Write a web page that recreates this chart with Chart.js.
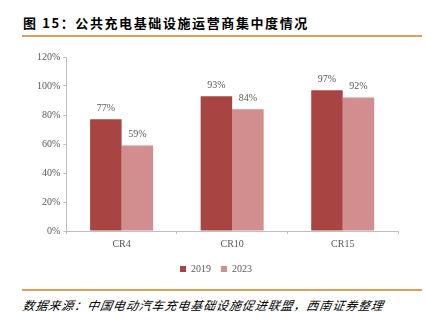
<!DOCTYPE html>
<html><head><meta charset="utf-8">
<script src="https://cdn.jsdelivr.net/npm/chart.js@4/dist/chart.umd.min.js"></script>
<style>
html,body{margin:0;padding:0;background:#fff;width:426px;height:329px;overflow:hidden;position:relative}
#title{position:absolute;left:23px;top:13px;font-family:"Noto Sans CJK SC";font-weight:bold;font-size:13px;color:#000;letter-spacing:1.6px;white-space:nowrap}
.rule{position:absolute;left:22px;width:400px;height:2px;background:#D9A25A}
#src{position:absolute;left:23px;top:296px;font-family:"Noto Sans CJK SC";font-style:italic;font-size:12px;color:#000;letter-spacing:0.9px;white-space:nowrap;transform:skewX(-10deg)}
#wrap{position:absolute;left:0;top:40px;width:426px;height:244px}
</style></head>
<body>
<div id="title">图 15：公共充电基础设施运营商集中度情况</div>
<div class="rule" style="top:35px"></div>
<div id="wrap"><canvas id="c" width="426" height="244"></canvas></div>
<div class="rule" style="top:289px;height:1.5px"></div>
<div id="src">数据来源：中国电动汽车充电基础设施促进联盟，西南证券整理</div>
<script>
const categories = ["CR4", "CR10", "CR15"];
const values2019 = [77, 93, 97];
const values2023 = [59, 84, 92];
const yTicks = [0, 20, 40, 60, 80, 100, 120];

const labelPlugin = {
  id: 'vlabels',
  afterDatasetsDraw(chart) {
    const ctx = chart.ctx;
    ctx.save();
    ctx.font = '10px "Liberation Serif"';
    ctx.fillStyle = '#595959';
    ctx.textAlign = 'center';
    ctx.textBaseline = 'bottom';
    chart.data.datasets.forEach((ds, i) => {
      chart.getDatasetMeta(i).data.forEach((bar, j) => {
        ctx.fillText(ds.data[j] + '%', bar.x, bar.y - 6);
      });
    });
    ctx.restore();
  }
};

new Chart(document.getElementById('c'), {
  type: 'bar',
  data: {
    labels: categories,
    datasets: [
      { label: '2019', data: values2019, backgroundColor: '#A84442' },
      { label: '2023', data: values2023, backgroundColor: '#D28E8E' }
    ]
  },
  options: {
    responsive: false,
    animation: false,
    layout: { padding: { left: 34, right: 28, top: 17, bottom: 0 } },
    datasets: { bar: { categoryPercentage: 0.57, barPercentage: 1.0 } },
    plugins: {
      legend: {
        position: 'bottom',
        labels: {
          boxWidth: 6, boxHeight: 6, padding: 10,
          font: { family: 'Liberation Serif', size: 10 },
          color: '#595959'
        }
      },
      tooltip: { enabled: false }
    },
    scales: {
      x: {
        grid: { display: true, offset: true, drawOnChartArea: false, drawTicks: true, tickLength: 3, color: '#BFBFBF' },
        border: { color: '#BFBFBF' },
        ticks: { font: { family: 'Liberation Serif', size: 10 }, color: '#595959', padding: 4 }
      },
      y: {
        min: 0, max: 120,
        afterBuildTicks(axis) { axis.ticks = yTicks.map(v => ({ value: v })); },
        grid: { display: true, drawOnChartArea: false, drawTicks: true, tickLength: 3, color: '#BFBFBF' },
        border: { color: '#BFBFBF' },
        ticks: { font: { family: 'Liberation Serif', size: 10 }, color: '#595959', padding: 3, callback: v => v + '%' }
      }
    }
  },
  plugins: [labelPlugin]
});
</script>
</body></html>
